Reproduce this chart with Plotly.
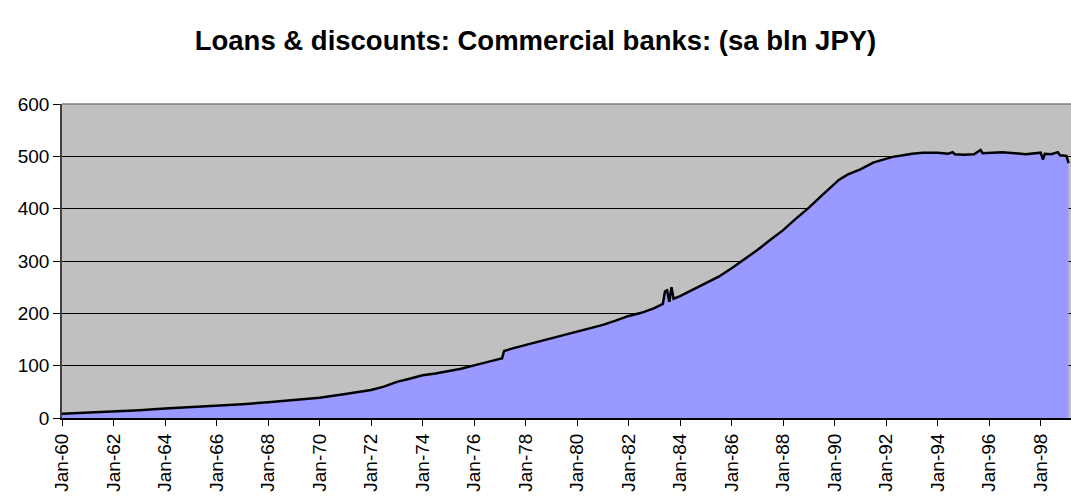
import plotly.graph_objects as go

dates = [
    "1960-01-01", "1961-01-01", "1962-01-01", "1963-01-01", "1964-01-01",
    "1965-01-01", "1966-01-01", "1967-01-01", "1968-01-01", "1969-01-01",
    "1970-01-01", "1971-01-01", "1972-01-01", "1972-07-01", "1973-01-01",
    "1973-07-01", "1974-01-01", "1974-07-01", "1975-01-01", "1975-07-01",
    "1976-01-01", "1976-07-01", "1977-01-01", "1977-02-01", "1977-03-01",
    "1977-07-01", "1978-01-01", "1978-07-01", "1979-01-01", "1979-07-01",
    "1980-01-01", "1980-07-01", "1981-01-01", "1981-07-01", "1982-01-01",
    "1982-07-01", "1983-01-01", "1983-05-01", "1983-06-01", "1983-07-01",
    "1983-08-01", "1983-09-01", "1983-10-01", "1984-01-01", "1984-07-01",
    "1985-01-01", "1985-07-01", "1986-01-01", "1986-07-01", "1987-01-01",
    "1987-07-01", "1988-01-01", "1988-07-01", "1989-01-01", "1989-07-01",
    "1990-01-01", "1990-03-01", "1990-07-01", "1991-01-01", "1991-07-01",
    "1992-01-01", "1992-04-01", "1992-09-01", "1993-01-01", "1993-06-01",
    "1994-01-01", "1994-06-01", "1994-08-01", "1994-09-01", "1995-01-01",
    "1995-06-01", "1995-09-01", "1995-10-01", "1996-01-01", "1996-07-01",
    "1997-01-01", "1997-06-01", "1998-01-01", "1998-02-01", "1998-03-01",
    "1998-06-01", "1998-09-01", "1998-10-01", "1999-01-01", "1999-02-01",
]
values = [
    8, 10, 12, 15, 18,
    20.5, 23.5, 26.5, 30, 34,
    38.5, 46, 53.5, 60, 69,
    75, 81.5, 85, 89, 94,
    100.5, 106, 113, 114, 128,
    133, 139.5, 146, 152, 159,
    166, 171, 178, 186, 195,
    201, 210, 218, 242, 244,
    222, 250, 228, 233, 245,
    258, 270, 286, 303, 321,
    340, 359, 381, 402, 425,
    448, 455, 465, 475, 488,
    495, 499, 502, 505, 507,
    507, 505, 508, 504, 503,
    504, 512, 506, 507, 508,
    506, 504, 507, 494, 505,
    504, 508, 502, 501, 487,
]

y_ticks = [0, 100, 200, 300, 400, 500, 600]

fig = go.Figure()
fig.add_trace(go.Scatter(
    x=dates, y=values, mode="lines", fill="tozeroy",
    fillcolor="#9999FF", line=dict(color="black", width=2.5),
    hoverinfo="skip", showlegend=False,
))

fig.update_layout(
    width=1071, height=496,
    margin=dict(l=62, r=0, t=104, b=78),
    paper_bgcolor="white", plot_bgcolor="#C0C0C0",
    font=dict(family="Liberation Sans, Arial, sans-serif", color="black", size=19),
    title=dict(
        text="<b>Loans &amp; discounts: Commercial banks: (sa bln JPY)</b>",
        x=0.5, xanchor="center", y=0.919, yanchor="middle",
        font=dict(size=27.5, family="Liberation Sans, Arial, sans-serif", color="black"),
    ),
    xaxis=dict(
        type="date", range=["1960-01-01", "1999-03-07"],
        tick0="1960-01-01", dtick="M24", tickformat="%b-%y",
        tickangle=-90, ticks="outside", ticklen=6, tickcolor="black",
        showgrid=False, showline=True, linecolor="black", linewidth=2,
        tickfont=dict(size=19),
    ),
    yaxis=dict(
        range=[0, 600], tickvals=y_ticks, ticks="outside", ticklen=7,
        tickcolor="black", showgrid=True, gridcolor="black", gridwidth=1,
        showline=True, linecolor="#404040", linewidth=1.5,
        zeroline=False, tickfont=dict(size=19),
    ),
)
fig.add_shape(type="line", xref="paper", yref="paper", x0=0, x1=1, y0=1, y1=1,
              line=dict(color="#808080", width=1.5))

fig.write_html("out.html")
